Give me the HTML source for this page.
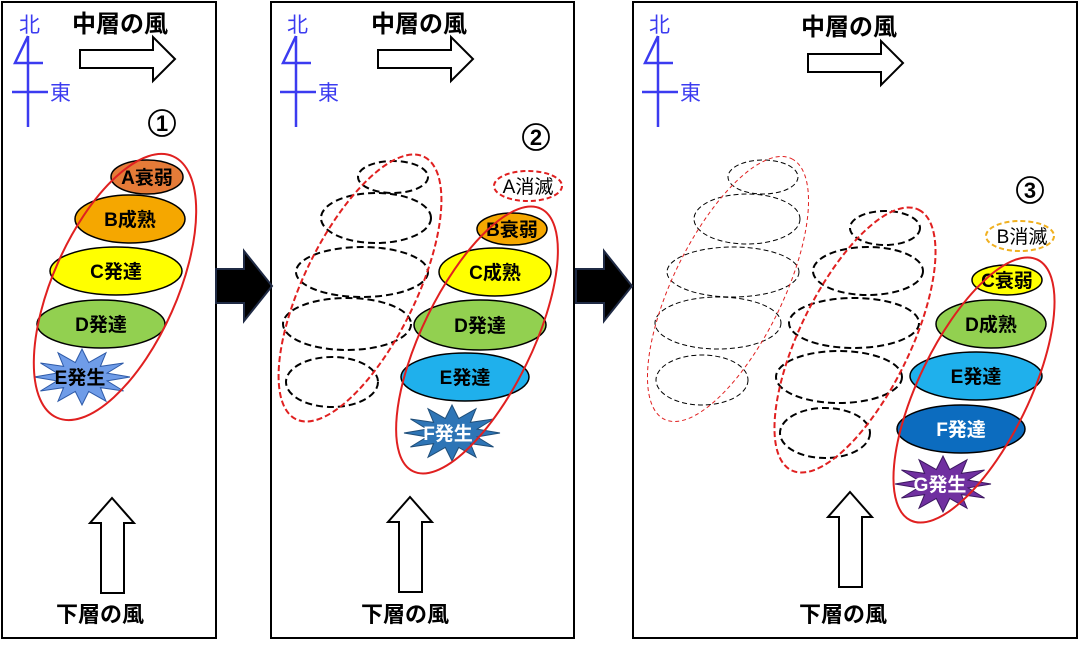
<!DOCTYPE html>
<html><head><meta charset="utf-8"><style>
html,body{margin:0;padding:0;background:#fff;}
svg{display:block;font-family:"Liberation Sans","Noto Sans CJK JP",sans-serif;font-weight:bold;}
</style></head><body>
<svg width="1079" height="648" viewBox="0 0 1079 648" xmlns="http://www.w3.org/2000/svg">
<defs>
<polygon id="star" points="48,0 25.1,3.9 41.6,14 18.4,10.6 24,24.2 6.7,14.5 0,28 -6.7,14.5 -24,24.2 -18.4,10.6 -41.6,14 -25.1,3.9 -48,0 -25.1,-3.9 -41.6,-14 -18.4,-10.6 -24,-24.2 -6.7,-14.5 0,-28 6.7,-14.5 24,-24.2 18.4,-10.6 41.6,-14 25.1,-3.9"/>
<g id="compass" stroke="#3b3bf0" stroke-width="2.5" fill="none">
<line x1="28" y1="36" x2="28" y2="127"/>
<polyline points="28,36 15,63 43,63"/>
<line x1="12" y1="92" x2="48" y2="92"/>
</g>
<path id="rarrow" d="M0,11 H73 V-2 L95,20 L73,42 V29 H0 Z" fill="#fff" stroke="#000" stroke-width="2"/>
<path id="uarrow" d="M0,0 L22,25 H12 V95 H-11 V25 H-22 Z" fill="#fff" stroke="#000" stroke-width="2"/>
<path id="barrow" d="M0,-17 H28 V-35 L56,0 L28,35 V17 H0 Z" fill="#000" stroke="#1f2a44" stroke-width="2"/>
</defs>

<rect x="2" y="2" width="214" height="636" fill="none" stroke="#000" stroke-width="2"/>
<rect x="271" y="2" width="303" height="636" fill="none" stroke="#000" stroke-width="2"/>
<rect x="633" y="2" width="444" height="636" fill="none" stroke="#000" stroke-width="2"/>

<use href="#barrow" x="216" y="286"/>
<use href="#barrow" x="576" y="286"/>

<!-- Panel 1 -->
<use href="#compass" x="0" y="0"/>
<text x="19" y="32" fill="#3b3bf0" font-size="21" font-weight="normal">北</text>
<text x="50" y="100" fill="#3b3bf0" font-size="21" font-weight="normal">東</text>
<text x="72" y="32" font-size="24">中層の風</text>
<use href="#rarrow" x="80" y="39"/>
<circle cx="162" cy="123" r="13" fill="none" stroke="#000" stroke-width="1.8"/>
<text x="162" y="131" font-size="22" text-anchor="middle">1</text>
<ellipse cx="147" cy="177" rx="36" ry="17" fill="#e57b38" stroke="#000" stroke-width="1.5"/>
<text x="147" y="184" font-size="19" text-anchor="middle">A衰弱</text>
<ellipse cx="130" cy="219" rx="55" ry="24" fill="#f5a700" stroke="#000" stroke-width="1.5"/>
<text x="130" y="226" font-size="19" text-anchor="middle">B成熟</text>
<ellipse cx="116" cy="271" rx="66" ry="24" fill="#ffff00" stroke="#000" stroke-width="1.5"/>
<text x="116" y="278" font-size="19" text-anchor="middle">C発達</text>
<ellipse cx="101" cy="324" rx="64" ry="24" fill="#92d050" stroke="#000" stroke-width="1.5"/>
<text x="101" y="331" font-size="19" text-anchor="middle">D発達</text>
<use href="#star" x="82" y="377" fill="#6f9ce8" stroke="#2e5aa8" stroke-width="1"/>
<text x="80" y="384" font-size="19" text-anchor="middle">E発生</text>
<ellipse cx="115" cy="287" rx="143" ry="62" transform="rotate(-66 115 287)" fill="none" stroke="#e02020" stroke-width="2"/>
<use href="#uarrow" x="112" y="498"/>
<text x="100" y="622" font-size="22" text-anchor="middle">下層の風</text>

<!-- Panel 2 -->
<use href="#compass" x="268" y="0"/>
<text x="287" y="32" fill="#3b3bf0" font-size="21" font-weight="normal">北</text>
<text x="318" y="100" fill="#3b3bf0" font-size="21" font-weight="normal">東</text>
<text x="371" y="32" font-size="24">中層の風</text>
<use href="#rarrow" x="378" y="39"/>
<circle cx="536" cy="137" r="13" fill="none" stroke="#000" stroke-width="1.8"/>
<text x="536" y="145" font-size="22" text-anchor="middle">2</text>
<ellipse cx="528" cy="186" rx="34" ry="15" fill="none" stroke="#e02020" stroke-width="2" stroke-dasharray="5,3"/>
<text x="528" y="193" font-size="19" font-weight="normal" text-anchor="middle">A消滅</text>
<g fill="none" stroke="#000" stroke-width="2" stroke-dasharray="7,4">
<ellipse cx="393" cy="177" rx="35" ry="16"/>
<ellipse cx="376" cy="218" rx="55" ry="25"/>
<ellipse cx="362" cy="272" rx="66" ry="25"/>
<ellipse cx="347" cy="324" rx="64" ry="26"/>
<ellipse cx="332" cy="382" rx="46" ry="25"/>
</g>
<ellipse cx="360" cy="288" rx="146" ry="56" transform="rotate(-64 360 288)" fill="none" stroke="#e02020" stroke-width="2" stroke-dasharray="6,3"/>
<ellipse cx="512" cy="229" rx="35" ry="16" fill="#f5a700" stroke="#000" stroke-width="1.5"/>
<text x="512" y="236" font-size="19" text-anchor="middle">B衰弱</text>
<ellipse cx="495" cy="272" rx="56" ry="24" fill="#ffff00" stroke="#000" stroke-width="1.5"/>
<text x="495" y="279" font-size="19" text-anchor="middle">C成熟</text>
<ellipse cx="480" cy="325" rx="66" ry="25" fill="#92d050" stroke="#000" stroke-width="1.5"/>
<text x="480" y="332" font-size="19" text-anchor="middle">D発達</text>
<ellipse cx="465" cy="377" rx="64" ry="24" fill="#1fb0ec" stroke="#000" stroke-width="1.5"/>
<text x="465" y="384" font-size="19" text-anchor="middle">E発達</text>
<use href="#star" x="452" y="433" fill="#2e75b6" stroke="#1f4e79" stroke-width="1"/>
<text x="448" y="440" font-size="19" fill="#fff" text-anchor="middle">F発生</text>
<ellipse cx="477" cy="340" rx="146" ry="55" transform="rotate(-64 477 340)" fill="none" stroke="#e02020" stroke-width="2"/>
<use href="#uarrow" x="410" y="497"/>
<text x="405" y="622" font-size="22" text-anchor="middle">下層の風</text>

<!-- Panel 3 -->
<use href="#compass" x="630" y="0"/>
<text x="649" y="32" fill="#3b3bf0" font-size="21" font-weight="normal">北</text>
<text x="680" y="100" fill="#3b3bf0" font-size="21" font-weight="normal">東</text>
<text x="801" y="35" font-size="24">中層の風</text>
<use href="#rarrow" x="808" y="43"/>
<circle cx="1030" cy="190" r="13" fill="none" stroke="#000" stroke-width="1.8"/>
<text x="1030" y="198" font-size="22" text-anchor="middle">3</text>
<ellipse cx="1020" cy="236" rx="34" ry="15" fill="none" stroke="#f0b020" stroke-width="2" stroke-dasharray="5,3"/>
<text x="1022" y="243" font-size="19" font-weight="normal" text-anchor="middle">B消滅</text>
<g fill="none" stroke="#000" stroke-width="1" stroke-dasharray="5,3">
<ellipse cx="763" cy="177" rx="35" ry="17"/>
<ellipse cx="747" cy="219" rx="53" ry="25"/>
<ellipse cx="733" cy="272" rx="66" ry="25"/>
<ellipse cx="718" cy="323" rx="63" ry="26"/>
<ellipse cx="702" cy="380" rx="46" ry="25"/>
</g>
<ellipse cx="728" cy="289" rx="145" ry="55" transform="rotate(-64 728 289)" fill="none" stroke="#e02020" stroke-width="1" stroke-dasharray="4,3"/>
<g fill="none" stroke="#000" stroke-width="2" stroke-dasharray="7,4">
<ellipse cx="885" cy="228" rx="35" ry="17"/>
<ellipse cx="868" cy="271" rx="55" ry="24"/>
<ellipse cx="854" cy="323" rx="65" ry="25"/>
<ellipse cx="839" cy="377" rx="63" ry="26"/>
<ellipse cx="825" cy="433" rx="45" ry="25"/>
</g>
<ellipse cx="855" cy="340" rx="145" ry="55" transform="rotate(-64 855 340)" fill="none" stroke="#e02020" stroke-width="2" stroke-dasharray="6,3"/>
<ellipse cx="1007" cy="280" rx="35" ry="15" fill="#ffff00" stroke="#000" stroke-width="1.5"/>
<text x="1007" y="287" font-size="19" text-anchor="middle">C衰弱</text>
<ellipse cx="991" cy="324" rx="55" ry="24" fill="#92d050" stroke="#000" stroke-width="1.5"/>
<text x="991" y="331" font-size="19" text-anchor="middle">D成熟</text>
<ellipse cx="976" cy="376" rx="66" ry="24" fill="#1fb0ec" stroke="#000" stroke-width="1.5"/>
<text x="976" y="383" font-size="19" text-anchor="middle">E発達</text>
<ellipse cx="961" cy="429" rx="64" ry="24" fill="#0c6cbf" stroke="#000" stroke-width="1.5"/>
<text x="961" y="436" font-size="19" fill="#fff" text-anchor="middle">F発達</text>
<use href="#star" x="943" y="484" fill="#7030a0" stroke="#3c1860" stroke-width="1"/>
<text x="940" y="491" font-size="19" fill="#fff" text-anchor="middle">G発生</text>
<ellipse cx="974" cy="390" rx="145" ry="55" transform="rotate(-64 974 390)" fill="none" stroke="#e02020" stroke-width="2"/>
<use href="#uarrow" x="850" y="492"/>
<text x="843" y="622" font-size="22" text-anchor="middle">下層の風</text>
</svg>
</body></html>
